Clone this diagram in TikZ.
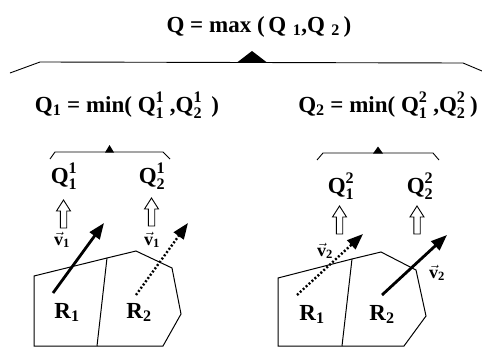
\documentclass[tikz,border=0pt]{standalone}
\usepackage{fontspec}
\usepackage{amsmath}
\setmainfont{Liberation Serif}
\usetikzlibrary{arrows.meta}
\tikzset{
 lbl/.style={font=\fontsize{23}{23}\selectfont\bfseries, inner sep=0pt, anchor=base},
 vlbl/.style={font=\fontsize{18}{18}\selectfont\bfseries, inner sep=0pt, anchor=base},
 brace/.style={line width=0.9pt},
 cell/.style={line width=1pt, line join=miter},
 solidarr/.style={line width=2.8pt, -{Triangle[length=16pt,width=12pt]}},
 dotarr/.style={line width=2.4pt, dash pattern=on 2pt off 2pt, -{Triangle[length=16pt,width=12pt]}},
 hollow/.style={line width=0.9pt, fill=white},
 hollowup/.pic={\draw[hollow] (-3.2,0) -- (-3.2,-17) -- (-7,-17) -- (0,-28) -- (7,-17) -- (3.2,-17) -- (3.2,0) -- cycle;},
}
\begin{document}
\begin{tikzpicture}[x=1pt,y=-1pt]
\useasboundingbox (0,0) rectangle (482,348);
% top formula and brace
\node[lbl] (top) at (259,32) {Q = max (\,Q\;\(_{\text{1}}\),Q\;\(_{\text{2}}\)\,)};
\draw[brace] (10,73) -- (40,62) -- (463,63) -- (482,71);
\fill (237,62.5) -- (252,51) -- (267,62.5) -- cycle;
% second level formulas
\node[lbl] (q1) at (127,112) {Q\(_{\text{1}}\) = min( Q\(^{\text{1}}_{\text{1}}\) ,Q\(^{\text{1}}_{\text{2}}\)\hspace{0.4em})};
\node[lbl] (q2) at (388,112) {Q\(_{\text{2}}\) = min( Q\(^{\text{2}}_{\text{1}}\) ,Q\(^{\text{2}}_{\text{2}}\)\hspace{0.2em})};
% sub braces
\draw[brace] (50,159) -- (55,152) -- (163,152) -- (170,159);
\fill (105,152.5) -- (109.5,145) -- (114,152.5) -- cycle;
\draw[brace] (317,160) -- (323,153) -- (433,153) -- (439,160);
\fill (373,153.5) -- (378,146.5) -- (383,153.5) -- cycle;
% Q labels
\node[lbl] (q11) at (64,183) {Q\(^{\text{1}}_{\text{1}}\)};
\node[lbl] (q12) at (152,183) {Q\(^{\text{1}}_{\text{2}}\)};
\node[lbl] (q21) at (341,193) {Q\(^{\text{2}}_{\text{1}}\)};
\node[lbl] (q22) at (420,193) {Q\(^{\text{2}}_{\text{2}}\)};
% hollow arrows
\pic at (63.5,228) {hollowup};
\pic at (151.5,226) {hollowup};
\pic at (339.5,234) {hollowup};
\pic at (417,234) {hollowup};
% left cells
\draw[cell] (34,346) -- (34,276) -- (107,258) -- (136,251) -- (172,268) -- (181,314) -- (163,346) -- cycle;
\draw[cell] (107,258) -- (97,346);
% right cells
\draw[cell] (278,346) -- (278,278) -- (352,259) -- (381,252) -- (416,270) -- (426,316) -- (404,346) -- cycle;
\draw[cell] (352,259) -- (342,346);
% region labels
\node[lbl] (r1a) at (67,318) {R\(_{\text{1}}\)};
\node[lbl] (r2a) at (139,318) {R\(_{\text{2}}\)};
\node[lbl] (r1b) at (312,320) {R\(_{\text{1}}\)};
\node[lbl] (r2b) at (382,320) {R\(_{\text{2}}\)};
% velocity labels
\node[vlbl] (v1a) at (62,245) {\(\vec{\text{v}}_{\text{1}}\)};
\node[vlbl] (v1b) at (152,245) {\(\vec{\text{v}}_{\text{1}}\)};
\node[vlbl] (v2a) at (325,256) {\(\vec{\text{v}}_{\text{2}}\)};
\node[vlbl] (v2b) at (437,278) {\(\vec{\text{v}}_{\text{2}}\)};
% velocity arrows
\coordinate (s1) at (53,293); \coordinate (e1) at (104,223);
\coordinate (s2) at (136,295); \coordinate (e2) at (188,223);
\coordinate (s3) at (297,295); \coordinate (e3) at (363,234);
\coordinate (s4) at (382,295); \coordinate (e4) at (447,235);
\draw[solidarr] (s1) -- (e1);
\draw[dotarr] (s2) -- (e2);
\draw[dotarr] (s3) -- (e3);
\draw[solidarr] (s4) -- (e4);
\end{tikzpicture}
\end{document}
